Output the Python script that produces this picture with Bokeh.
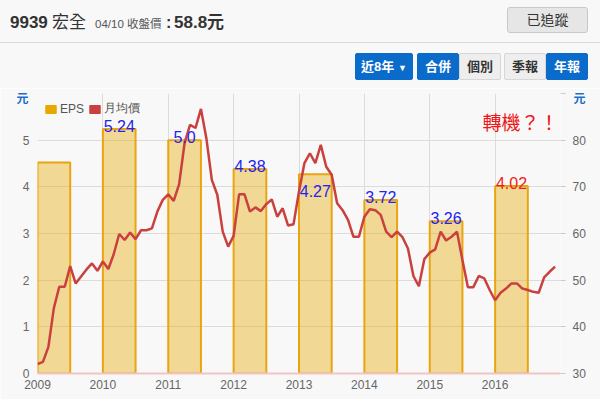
from bokeh.plotting import figure
from bokeh.models import (Range1d, LinearAxis, FixedTicker, Label, Legend, LegendItem,
                          Div, ColumnDataSource)
from bokeh.layouts import column
from bokeh.embed import file_html
from bokeh.resources import INLINE
from bokeh.core.properties import value

# ---------------- data ----------------
years = [2009, 2010, 2011, 2012, 2013, 2014, 2015, 2016]
eps = [4.52, 5.24, 5.00, 4.38, 4.27, 3.72, 3.26, 4.02]
eps_labels = ["", "5.24", "5.0", "4.38", "4.27", "3.72", "3.26", "4.02"]
eps_label_colors = ["#2323f0", "#2323f0", "#2323f0", "#2323f0", "#2323f0", "#2323f0", "#2323f0", "#ee1c1c"]

price_first_year = 2009
monthly_price = [
    32.0, 32.5, 35.7, 44.0, 48.6, 48.6, 53.0, 49.3, 50.8, 52.3, 53.6, 52.0,
    54.0, 52.4, 55.6, 59.9, 58.6, 60.2, 58.8, 60.7, 60.7, 61.1, 64.7, 67.2,
    68.4, 67.0, 70.6, 79.4, 83.3, 82.6, 86.7, 80.4, 71.5, 68.3, 60.4, 57.2,
    59.5, 68.4, 68.4, 64.7, 65.6, 64.8, 66.3, 67.3, 63.6, 65.4, 61.7, 62.0,
    69.0, 75.1, 77.2, 75.1, 79.0, 74.3, 72.6, 66.5, 65.0, 62.9, 59.3, 59.3,
    63.6, 65.2, 65.0, 64.0, 60.4, 59.2, 60.4, 59.2, 56.8, 50.9, 48.7, 54.5,
    55.9, 56.6, 60.4, 58.5, 59.3, 60.4, 54.3, 48.5, 48.5, 50.9, 50.4, 47.9,
    45.7, 47.3, 48.2, 49.3, 49.3, 48.2, 47.9, 47.5, 47.3, 50.6, 51.8, 52.9,
]

eps_ticks = [0, 1, 2, 3, 4, 5, 6]
price_ticks = [30, 40, 50, 60, 70, 80, 90]
unit_label = "元"

# ---------------- header (HTML) ----------------
BLUE = "#0b6bcb"
FONT = "'Liberation Sans','Noto Sans CJK TC',sans-serif"


def button(text, left, width, active, top=53, height=27):
    if active:
        st = f"background:{BLUE};color:#fff;border:1px solid {BLUE};"
    else:
        st = "background:#eeeeee;color:#333;border:1px solid #d6d6d6;"
    return (f"<div style='position:absolute;box-sizing:border-box;left:{left}px;top:{top}px;"
            f"width:{width}px;height:{height}px;line-height:{height - 2}px;text-align:center;"
            f"font-size:13px;font-weight:bold;border-radius:2px;{st}'>{text}</div>")


def ib(text, width, style):
    return f"<span style='display:inline-block;width:{width}px;{style}'>{text}</span>"


header_html = (
    f"<div style=\"position:relative;width:600px;height:88px;background:#f8f8f8;"
    f"font-family:{FONT};color:#333;\">"
    "<div style='position:absolute;left:10px;top:11px;line-height:24px;white-space:nowrap;'>"
    + ib("9939", 42, "font-size:17px;font-weight:bold;")
    + ib("宏全", 43, "font-size:17px;")
    + ib("04/10 收盤價", 71, "font-size:11.5px;color:#555;")
    + ib(":", 8, "font-size:16px;font-weight:bold;")
    + ib("58.8元", 60, "font-size:17px;font-weight:bold;")
    + "</div>"
    "<div style='position:absolute;box-sizing:border-box;left:507px;top:7px;width:81px;height:26px;"
    "line-height:24px;text-align:center;font-size:14px;color:#333;background:#e6e6e6;"
    "border:1px solid #c8c8c8;border-radius:3px;'>已追蹤</div>"
    "<div style='position:absolute;left:0px;top:42px;width:600px;height:1px;background:#d8d8d8;'></div>"
    + button("近8年 <span style='font-size:9px;'>&#9660;</span>", 355, 58, True)
    + button("合併", 417, 42, True)
    + button("個別", 459, 42, False)
    + button("季報", 504, 42, False)
    + button("年報", 546, 42, True)
    + "</div>"
)
header = Div(text=header_html, width=600, height=88, margin=(0, 0, 0, 0))

# ---------------- chart ----------------
p = figure(width=600, height=311, x_range=Range1d(2009, 2017), y_range=Range1d(0, 6),
           output_backend="svg", toolbar_location=None,
           min_border_left=37, min_border_right=40, min_border_top=5, min_border_bottom=26,
           background_fill_color="#f8f8f8", border_fill_color="#f8f8f8",
           outline_line_color=None, margin=(0, 0, 0, 0))
p.extra_y_ranges = {"price": Range1d(30, 90)}

bar_src = ColumnDataSource(dict(x=[y + 0.25 for y in years], top=eps))
p.vbar(x="x", top="top", width=0.5, bottom=0, source=bar_src,
       fill_color="#e8a800", fill_alpha=0.4, line_color="#e8a510", line_width=2)

price_x = [price_first_year + i / 12 for i in range(len(monthly_price))]
p.line(price_x, monthly_price, y_range_name="price", line_color="#c9403e", line_width=2.5)

# value labels
above = [i for i, t in enumerate(eps_labels) if t and i != 4]
inside = [4]
lab_font = value("Liberation Sans")
p.text(x=[years[i] + 0.25 for i in above], y=[eps[i] for i in above],
       text=[eps_labels[i] for i in above], text_color=[eps_label_colors[i] for i in above],
       text_align="center", text_baseline="alphabetic", y_offset=-3,
       text_font=lab_font, text_font_size="16px")
p.text(x=[years[i] + 0.25 for i in inside], y=[eps[i] for i in inside],
       text=[eps_labels[i] for i in inside], text_color=[eps_label_colors[i] for i in inside],
       text_align="center", text_baseline="alphabetic", y_offset=17,
       text_font=lab_font, text_font_size="16px")

# axes
tick_font = "Liberation Sans"


def style_axis(ax, standoff, tick_out=0):
    ax.major_tick_out = tick_out
    ax.major_tick_in = 0
    ax.minor_tick_out = 0
    ax.minor_tick_in = 0
    ax.major_label_standoff = standoff
    ax.major_label_text_font_size = "12px"
    ax.major_label_text_color = "#666666"
    ax.major_label_text_font = tick_font


xa = p.xaxis[0]
xa.ticker = FixedTicker(ticks=years)
style_axis(xa, 6)
xa.axis_line_color = "#f0c4c4"
xa.axis_line_width = 2

ya = p.yaxis[0]
ya.ticker = FixedTicker(ticks=eps_ticks)
ya.major_label_overrides = {6: ""}
ya.axis_line_color = None
style_axis(ya, 8)

ra = LinearAxis(y_range_name="price", ticker=FixedTicker(ticks=price_ticks))
ra.major_label_overrides = {90: ""}
ra.axis_line_color = None
style_axis(ra, 7, tick_out=5)
ra.major_tick_line_color = "#cccccc"
p.add_layout(ra, "right")

# unit captions "元" placed in the side panels (not clipped to the frame)
for side, ux in (("left", 2008.77), ("right", 2017.29)):
    p.add_layout(Label(x=ux, y=5.914, text=unit_label, text_align="center", text_baseline="middle",
                       text_color="#1a6fc9", text_font_size="12px", text_font_style="bold",
                       text_font="Noto Sans CJK TC"), side)

p.xgrid.ticker = FixedTicker(ticks=years)
p.xgrid.grid_line_color = "#dcdcdc"
p.ygrid.grid_line_color = "#dcdcdc"

# annotation
p.add_layout(Label(x=2016.39, y=5.40, text="轉機？！", text_align="center", text_baseline="middle",
                   text_color="#ee1515", text_font_size="19px", text_font="Noto Sans CJK TC"))

# legend with solid swatches
nan = float("nan")
eps_sw = p.vbar(x=[nan], top=[nan], width=0.5, fill_color="#e8a800", line_color="#e8a800")
price_sw = p.vbar(x=[nan], top=[nan], width=0.5, fill_color="#c9403e", line_color="#c9403e")
legend = Legend(items=[LegendItem(label="EPS", renderers=[eps_sw]),
                       LegendItem(label="月均價", renderers=[price_sw])],
                location="top_left", orientation="horizontal", margin=7, padding=0,
                spacing=4, glyph_width=13, glyph_height=10, label_standoff=3,
                label_height=10, label_text_font_size="12px", label_text_color="#555555",
                label_text_font="Liberation Sans", label_text_baseline="middle",
                background_fill_alpha=0, border_line_color=None)
p.add_layout(legend)

layout = column(header, p, spacing=0)
open("out.html", "w").write(file_html(layout, INLINE))
